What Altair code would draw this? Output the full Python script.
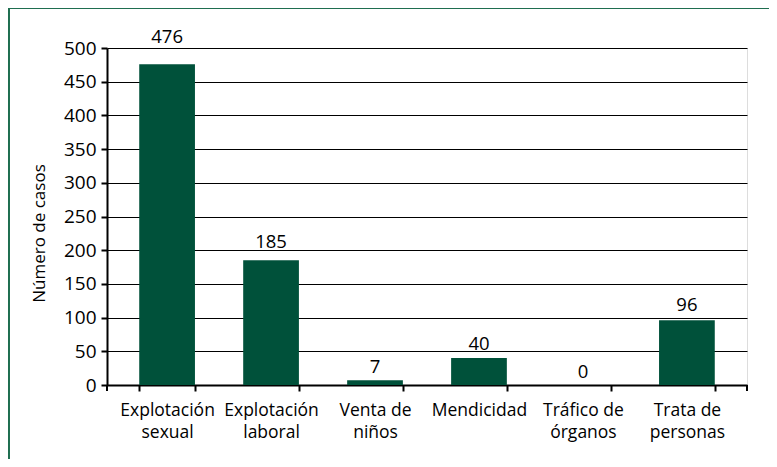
import altair as alt
import pandas as pd

categories = ["Explotación|sexual", "Explotación|laboral", "Venta de|niños",
              "Mendicidad", "Tráfico de|órganos", "Trata de|personas"]
values = [476, 185, 7, 40, 0, 96]
y_ticks = [0, 50, 100, 150, 200, 250, 300, 350, 400, 450, 500]

df = pd.DataFrame({"cat": categories, "val": values})

FONT = "Open Sans"
GREEN = "#00513a"
FRAME = "#1f6e50"

x_axis = alt.Axis(labelExpr="split(datum.label, '|')", labelAngle=0,
                  labelFont=FONT, labelFontSize=17.5, labelColor="black",
                  labelPadding=10, labelLineHeight=22,
                  tickBand="extent", tickSize=6, tickColor="black", tickWidth=2,
                  domainColor="black", domainWidth=2)
x_scale = alt.Scale(paddingInner=0.464, paddingOuter=0.31)

y_axis = alt.Axis(values=y_ticks, labelFont=FONT, labelFontSize=19,
                  labelColor="black", labelPadding=5, labelOverlap=False,
                  tickSize=6, tickColor="black", tickWidth=2,
                  domainColor="black", domainWidth=2,
                  grid=True, gridColor="black", gridWidth=1.2,
                  titleFont=FONT, titleFontSize=17, titleFontWeight="normal",
                  titleColor="black", titlePadding=15, titleY=185)
y_scale = alt.Scale(domain=[0, 500], nice=False)

base = alt.Chart(df)

bars = base.mark_bar(color=GREEN).encode(
    x=alt.X("cat:N", sort=categories, title=None, scale=x_scale, axis=x_axis),
    y=alt.Y("val:Q", title="Número de casos", scale=y_scale, axis=y_axis))

labels = base.transform_calculate(lab="datum.val * 1.045 + 10").mark_text(
    font=FONT, fontSize=18.5, color="black", baseline="alphabetic").encode(
    x=alt.X("cat:N", sort=categories, title=None, scale=x_scale, axis=x_axis),
    y=alt.Y("lab:Q", title="Número de casos", scale=y_scale, axis=y_axis),
    text=alt.Text("val:Q"))

frame_v = base.mark_rule(color=FRAME, strokeWidth=2).encode(
    x=alt.value(-98.5), y=alt.value(-40), y2=alt.value(440))
frame_h = base.mark_rule(color=FRAME, strokeWidth=2).encode(
    x=alt.value(-98.5), x2=alt.value(700), y=alt.value(-40))
edge_l = base.mark_rule(color="black", strokeWidth=2).encode(
    x=alt.value(0), y=alt.value(337), y2=alt.value(343))
edge_r = base.mark_rule(color="black", strokeWidth=2).encode(
    x=alt.value(640), y=alt.value(337), y2=alt.value(343))

chart = alt.layer(bars, labels, frame_v, frame_h, edge_l, edge_r).properties(
    width=640, height=337,
    autosize=alt.AutoSizeParams(type="none"),
    padding={"left": 99, "top": 40, "right": 22, "bottom": 74},
).configure_view(stroke="black", strokeWidth=2).configure(background="white")

chart.save("out.html", embed_options={"renderer": "svg", "actions": False})
